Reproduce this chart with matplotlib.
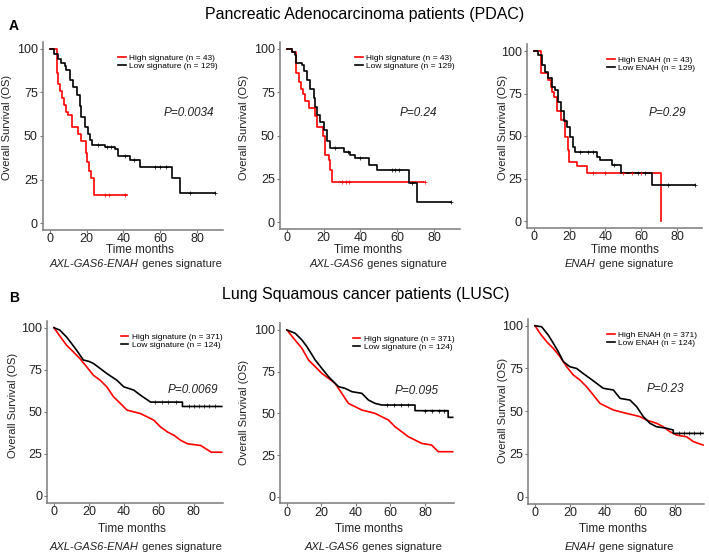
import matplotlib
matplotlib.use('Agg')
import matplotlib.pyplot as plt
import numpy as np

plt.rcParams['font.family'] = ['Liberation Sans', 'DejaVu Sans']

W, H = 709, 556

# PDAC curves (Kaplan-Meier steps: time in months, survival %)
a1_high_t = [0, 3.8, 4.5, 5.5, 6.5, 7.5, 8.7, 10, 12, 15, 17, 19.8, 20.3, 21.3, 22.6, 24, 42]
a1_high_s = [100, 86, 80, 76, 72, 68, 64, 62, 55, 51, 47, 40, 35, 30, 26, 16, 16]
a1_low_t = [0, 2, 4.4, 6, 8, 8.9, 10.7, 12.6, 14.8, 16.2, 17.1, 18.9, 20.8, 21.7, 23.1,
            29.9, 35.3, 37.2, 43.5, 49, 66.3, 70.9, 90]
a1_low_s = [100, 97, 94, 92, 90, 88, 82, 78, 73.5, 67, 61, 55, 51.4, 47.6, 44.7,
            43.4, 42.8, 38.4, 36, 32.2, 26.1, 17.3, 17.3]

a2_high_t = [0, 2.7, 5.1, 6.4, 7.6, 8.7, 9.6, 11.8, 15.5, 16.4, 19.5, 20.5, 22.7, 23.6, 24.5, 74.5]
a2_high_s = [100, 98, 86, 81, 77, 74, 70, 66, 61, 55, 50, 39, 36, 30, 23, 23]
a2_low_t = [0, 2.7, 4.5, 5.1, 8.2, 9.1, 10.9, 12.7, 14.5, 15.5, 16.4, 18.2, 20, 21.8, 23.3,
            30.9, 34.5, 37.3, 44.5, 49.1, 66.4, 70.9, 89.1]
a2_low_s = [100, 98.5, 96.5, 92, 91, 87, 82, 77, 71.5, 66.7, 61.8, 58, 53, 47, 42.6,
            40.7, 38.7, 36.8, 33, 30, 22.4, 11.4, 11.4]

a3_high_t = [0, 3.7, 8, 9.3, 9.9, 11.4, 12.7, 15.3, 17.4, 18.9, 19.6, 24.3, 29.9, 71.2]
a3_high_s = [100, 87, 83, 79, 76, 73, 65, 59.4, 49.6, 41.8, 35, 32.4, 28, 0]
a3_low_t = [0, 2.4, 4.3, 6.2, 8, 9.9, 11.8, 13.6, 15.1, 16.8, 18.3, 20.2, 22, 23,
            35, 36.9, 43.6, 48.8, 66, 89.9]
a3_low_s = [100, 97.6, 91.8, 87.8, 84, 79, 77, 70, 65, 59, 55.5, 49.6, 43.7, 40.8,
            37.8, 35.9, 33, 28, 21.2, 21.2]

# LUSC curves (many small steps, drawn as a polyline)
b1_high_t = [0, 2.3, 7.1, 11, 14.8, 18.7, 22.5, 26.4, 30.2, 34.1, 38, 41.8, 45.7, 49.5, 53.4,
             57.2, 61, 65, 68.8, 72.6, 76.5, 84, 87, 90, 96]
b1_high_s = [100, 96.6, 89.7, 85.7, 81.7, 76.8, 71.8, 68.8, 64.9, 58.9, 55, 51, 50, 49, 47,
             45, 41, 38, 36, 33, 31, 30, 28, 26, 26]
b1_low_t = [0, 3.3, 7.1, 10, 12.9, 16.8, 20, 22.5, 26.4, 30.2, 36, 39.9, 45.7, 49.5, 55.3,
            73.5, 73.5, 96]
b1_low_s = [100, 98.6, 94.6, 90.7, 86.7, 80.8, 80, 78.8, 75.8, 72.8, 68.8, 64.9, 62.9, 59.9, 55.8,
            55.8, 53.2, 53.2]

b2_high_t = [0, 3.9, 8.7, 12.5, 16.4, 20.2, 24.1, 27.9, 31.8, 35.6, 39.5, 43.4, 47.2, 51, 54.9,
             58.8, 62.6, 66.5, 70.3, 74.2, 78, 83.8, 87.7, 96]
b2_high_s = [100, 95, 89, 82, 78, 74, 71, 68, 62, 56, 54, 52, 51, 50, 48,
             46, 42, 39, 36, 34, 32, 31, 27, 27]
b2_low_t = [0, 4.8, 8.7, 11.6, 16.4, 20.2, 24.1, 27.9, 29.9, 33.7, 37.6, 43.4, 47.2, 51, 54.9,
            74.2, 74.2, 93.4, 93.4, 96]
b2_low_s = [100, 98, 94, 90, 82, 77, 72, 68, 66, 65, 63, 62, 58, 56, 55,
            55, 51.6, 51.6, 47.6, 47.6]

b3_high_t = [0, 2.9, 6.7, 10.5, 14.3, 18.1, 21.9, 25.7, 29.5, 33.3, 37.1, 41, 44.8, 48.6, 52.4,
             56.2, 60, 63.8, 69.5, 73.3, 77.1, 81, 86.7, 90.5, 96]
b3_high_s = [100, 95.5, 90.6, 86.7, 81.9, 76, 71.2, 68.2, 64.3, 59.5, 54.6, 52.6, 50.7, 49.7, 48.7,
             47.8, 46.8, 44.8, 42.9, 40.9, 38, 36, 35, 32.2, 30.2]
b3_low_t = [0, 3.8, 7.6, 10.5, 13.3, 16.2, 20, 23.8, 27.6, 31.4, 35.2, 39, 44.8, 48.6, 54.3,
            58.1, 61.9, 65.7, 69.5, 75.2, 79, 79, 96]
b3_low_s = [100, 99.4, 94.5, 89.7, 84.8, 79, 76, 75, 72, 69.2, 66.3, 63.4, 62.4, 57.5, 56.5,
            52.6, 46.8, 42.9, 40.9, 40, 39, 37, 37]

# censored times
a1_high_c = [30, 32, 41]
a1_low_c = [26, 31, 33, 41, 46, 57, 60, 63, 76, 90]
a2_high_c = [30, 32, 34, 75]
a2_low_c = [26, 33, 40, 57, 59, 61, 68, 89]
a3_high_c = [33, 40, 50, 55, 60]
a3_low_c = [26, 30, 33, 45, 58, 62, 75, 90]
b1_low_c = [58, 62, 65, 70, 77, 80, 83, 86, 89, 92]
b2_low_c = [58, 62, 66, 70, 80, 84, 88, 91]
b3_low_c = [82, 85, 88, 91, 94]

pdac_labels = ['High signature (n = 43)', 'Low signature (n = 129)']
pdac_enah_labels = ['High ENAH (n = 43)', 'Low ENAH (n = 129)']
lusc_labels = ['High signature (n = 371)', 'Low signature (n = 124)']
lusc_enah_labels = ['High ENAH (n = 371)', 'Low ENAH (n = 124)']
p_values = ['P=0.0034', 'P=0.24', 'P=0.29', 'P=0.0069', 'P=0.095', 'P=0.23']
genes = ['AXL-GAS6-ENAH', 'AXL-GAS6', 'ENAH']
gene_suffix = [' genes signature', ' genes signature', ' gene signature']


def px(x, y):
    return x / W, 1 - y / H


def step_at(ts, ss, t):
    i = np.searchsorted(ts, t, side='right') - 1
    return ss[max(i, 0)]


fig = plt.figure(figsize=(W / 100, H / 100), dpi=100)

panels = [
    # left, top, right, bottom (px), xmax, steps, data
    ((42.6, 42, 222.7, 230), 94, True, (a1_high_t, a1_high_s, a1_low_t, a1_low_s, a1_high_c, a1_low_c), pdac_labels),
    ((279.6, 42, 459.7, 229), 94, True, (a2_high_t, a2_high_s, a2_low_t, a2_low_s, a2_high_c, a2_low_c), pdac_labels),
    ((526.8, 44.2, 702, 227.8), 94, True, (a3_high_t, a3_high_s, a3_low_t, a3_low_s, a3_high_c, a3_low_c), pdac_enah_labels),
    ((47, 321, 222.6, 502.7), 96.5, False, (b1_high_t, b1_high_s, b1_low_t, b1_low_s, [], b1_low_c), lusc_labels),
    ((280, 323.3, 453.5, 503.4), 96.5, False, (b2_high_t, b2_high_s, b2_low_t, b2_low_s, [], b2_low_c), lusc_labels),
    ((528, 318.9, 703.9, 503.5), 96.5, False, (b3_high_t, b3_high_s, b3_low_t, b3_low_s, [], b3_low_c), lusc_enah_labels),
]
legend_x = [0.42, 0.42, 0.46, 0.42, 0.42, 0.45]
p_pos = [(0.81, 0.62), (0.77, 0.62), (0.80, 0.625), (0.83, 0.62), (0.79, 0.626), (0.78, 0.62)]

axes = []
for k, (box, xmax, steps, data, labels) in enumerate(panels):
    l, t, r, b = box
    x0, y0 = px(l, b)
    ax = fig.add_axes([x0, y0, (r - l) / W, (b - t) / H])
    axes.append(ax)
    ht, hs, lt, ls, hc, lc = data
    ds = 'steps-post' if steps else 'default'
    ax.plot(ht, hs, color='#ff0000', lw=1.2, drawstyle=ds, label=labels[0])
    ax.plot(lt, ls, color='black', lw=1.2, drawstyle=ds, label=labels[1])
    if hc:
        ax.plot(hc, [step_at(ht, hs, c) for c in hc], '+', color='#ff0000', ms=3, mew=0.5)
    if lc:
        ax.plot(lc, [step_at(lt, ls, c) if steps else np.interp(c, lt, ls) for c in lc],
                '+', color='black', ms=3, mew=0.5)
    ax.set_xlim(-4, xmax)
    ax.set_ylim(-4, 104)
    ax.set_xticks([0, 20, 40, 60, 80])
    ax.set_yticks([0, 25, 50, 75, 100])
    for s in ['top', 'right']:
        ax.spines[s].set_visible(False)
    for s in ['left', 'bottom']:
        ax.spines[s].set_color('#7a7a7a')
        ax.spines[s].set_linewidth(1.1)
    ax.tick_params(labelsize=9, colors='#7a7a7a', labelcolor='#222222', length=2, width=0.8)
    ax.tick_params(axis='x', pad=0.5)
    ax.tick_params(axis='y', pad=1.5)
    ax.legend(loc='upper left', bbox_to_anchor=(legend_x[k], 0.935), frameon=False, fontsize=6,
              handlelength=0.9, handletextpad=0.4, labelspacing=0.05, borderpad=0, borderaxespad=0)
    ax.text(p_pos[k][0], p_pos[k][1], p_values[k], transform=ax.transAxes, ha='center', va='center',
            fontsize=8.5, style='italic', color='#222222')

# axis titles placed by pixel
ylab_pos = [(7, 127), (244, 127), (503, 127), (13, 405), (244, 412), (503, 410)]
time_pos = [(140, 250), (368, 250), (625, 250), (132, 529), (369, 529), (613, 529)]
gene_start = [(50, 264), (310, 264), (565, 264), (50, 547), (305, 547), (565, 547)]
for k in range(6):
    fig.text(*px(*ylab_pos[k]), 'Overall Survival (OS)', rotation=90, ha='center', va='center',
             fontsize=8, color='#222222')
    fig.text(*px(*time_pos[k]), 'Time months', ha='center', va='center', fontsize=8.5, color='#222222')
    g = k % 3
    t1 = fig.text(*px(*gene_start[k]), genes[g], ha='left', va='center', fontsize=8,
                  style='italic', color='#222222')
    fig.axes[k].annotate(gene_suffix[g], xy=(1, 0), xycoords=t1, ha='left', va='bottom',
                         fontsize=8, color='#222222', annotation_clip=False)

fig.text(*px(365, 15), 'Pancreatic Adenocarcinoma patients (PDAC)', ha='center', va='center', fontsize=11.5)
fig.text(*px(366, 295), 'Lung Squamous cancer patients (LUSC)', ha='center', va='center', fontsize=11.5)
fig.text(*px(14, 26), 'A', ha='center', va='center', fontsize=10, fontweight='bold')
fig.text(*px(14, 298), 'B', ha='center', va='center', fontsize=10, fontweight='bold')

fig.savefig('out.png', dpi=100)
